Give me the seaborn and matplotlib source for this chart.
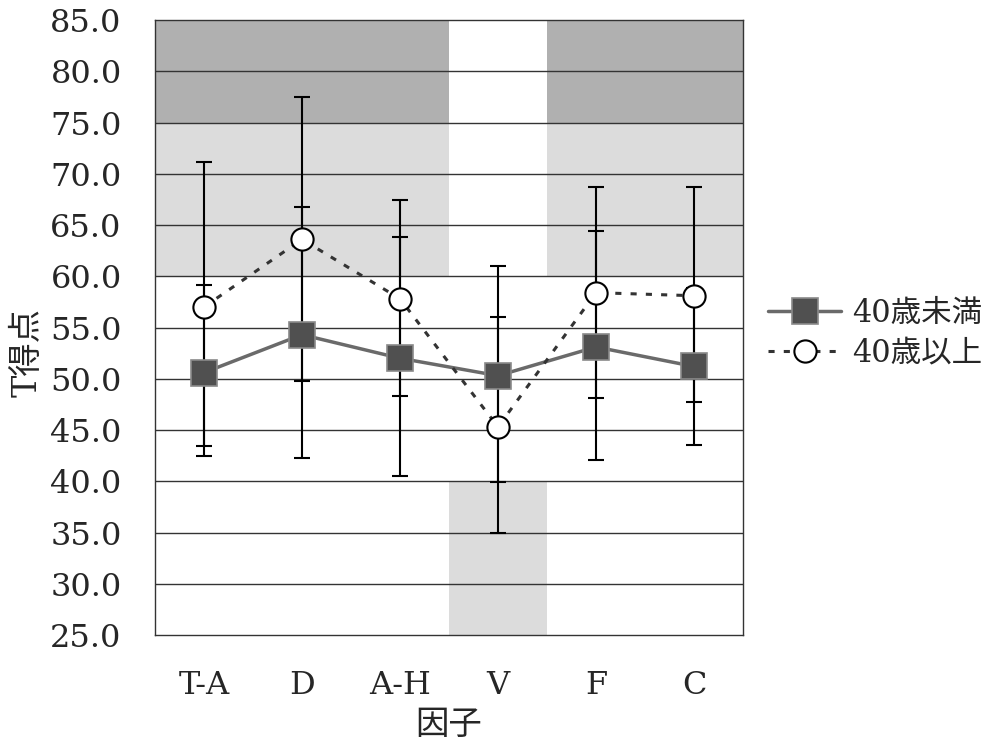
import numpy as np
import pandas as pd
import matplotlib
matplotlib.use('Agg')
import matplotlib.pyplot as plt
import seaborn as sns

# 因子ごとのT得点（平均と誤差範囲）
factors = ['T-A', 'D', 'A-H', 'V', 'F', 'C']
under40_mean = [50.6, 54.3, 52.0, 50.3, 53.1, 51.2]
under40_low = [42.5, 42.3, 40.5, 39.9, 42.1, 43.5]
under40_high = [59.1, 66.8, 63.8, 61.0, 64.4, 58.9]
over40_mean = [57.0, 63.6, 57.8, 45.3, 58.4, 58.1]
over40_low = [43.4, 49.8, 48.3, 35.0, 48.1, 47.7]
over40_high = [71.1, 77.5, 67.4, 56.0, 68.7, 68.7]
yticks = [25, 30, 35, 40, 45, 50, 55, 60, 65, 70, 75, 80, 85]

sns.set_style('white')
plt.rcParams['font.family'] = ['DejaVu Serif', 'Noto Sans CJK JP']

df = pd.DataFrame({
    'pos': np.arange(len(factors)),
    'factor': factors,
    'u_mean': under40_mean, 'u_low': under40_low, 'u_high': under40_high,
    'o_mean': over40_mean, 'o_low': over40_low, 'o_high': over40_high,
})

fig = plt.figure(figsize=(9.96, 7.44), dpi=100)
ax = fig.add_axes([0.1556, 0.1465, 0.5904, 0.8266])

# 背景の網掛け
dark = '#b0b0b0'
light = '#dcdcdc'
for i, f in enumerate(factors):
    if f == 'V':
        ax.fill_between([i - 0.5, i + 0.5], 25, 40, color=light, lw=0, zorder=0)
    else:
        ax.fill_between([i - 0.5, i + 0.5], 75, 85, color=dark, lw=0, zorder=0)
        ax.fill_between([i - 0.5, i + 0.5], 60, 75, color=light, lw=0, zorder=0)

for v in yticks[1:-1]:
    ax.axhline(v, color='#333333', lw=1.0, zorder=1)

# 誤差線
ax.errorbar(df['pos'], df['o_mean'],
            yerr=[df['o_mean'] - df['o_low'], df['o_high'] - df['o_mean']],
            fmt='none', ecolor='black', elinewidth=1.5, capsize=6, capthick=1.5, zorder=2)
ax.errorbar(df['pos'], df['u_mean'],
            yerr=[df['u_mean'] - df['u_low'], df['u_high'] - df['u_mean']],
            fmt='none', ecolor='black', elinewidth=1.5, capsize=6, capthick=1.5, zorder=2)

sns.lineplot(data=df, x='pos', y='u_mean', ax=ax, sort=False, color='#6a6a6a', lw=2.5,
             marker='s', markersize=19, markerfacecolor='#505050', markeredgecolor='#8a8a8a',
             markeredgewidth=1.2, label='40歳未満', zorder=4)
sns.lineplot(data=df, x='pos', y='o_mean', ax=ax, sort=False, color='#333333', lw=2.2,
             marker='o', markersize=16, markerfacecolor='white', markeredgecolor='black',
             markeredgewidth=1.5, label='40歳以上', zorder=4)
ax.lines[-1].set_dashes((2, 3))

ax.set_xlim(-0.5, len(factors) - 0.5)
ax.set_ylim(25, 85)
ax.set_yticks(yticks)
ax.set_yticklabels([f'{v:.1f}' for v in yticks], fontsize=23)
ax.set_xticks(np.arange(len(factors) - 1) + 0.5)
ax.set_xticklabels([])
ax.set_xticks(np.arange(len(factors)), minor=True)
ax.set_xticklabels(factors, minor=True, fontsize=23)
ax.tick_params(axis='x', which='major', direction='in', length=8, width=1, color='#333333')
ax.tick_params(axis='x', which='minor', length=0, pad=25)
ax.tick_params(axis='y', direction='in', length=5, pad=24, color='#333333')
ax.set_xlabel('因子', fontsize=24)
ax.set_ylabel('T得点', fontsize=24)
ax.xaxis.set_label_coords(0.5, -0.121)
ax.yaxis.set_label_coords(-0.19, 0.46)

for s in ax.spines.values():
    s.set_color('#333333')
    s.set_linewidth(1.0)

ax.get_legend().remove()
h, l = ax.get_legend_handles_labels()
fig.legend(h, l, loc='center left', bbox_to_anchor=(0.771, 0.552), frameon=False,
           fontsize=22, handlelength=2.4, labelspacing=0.3, handletextpad=0.35,
           borderpad=0, borderaxespad=0)

fig.savefig('out.png', dpi=100)
